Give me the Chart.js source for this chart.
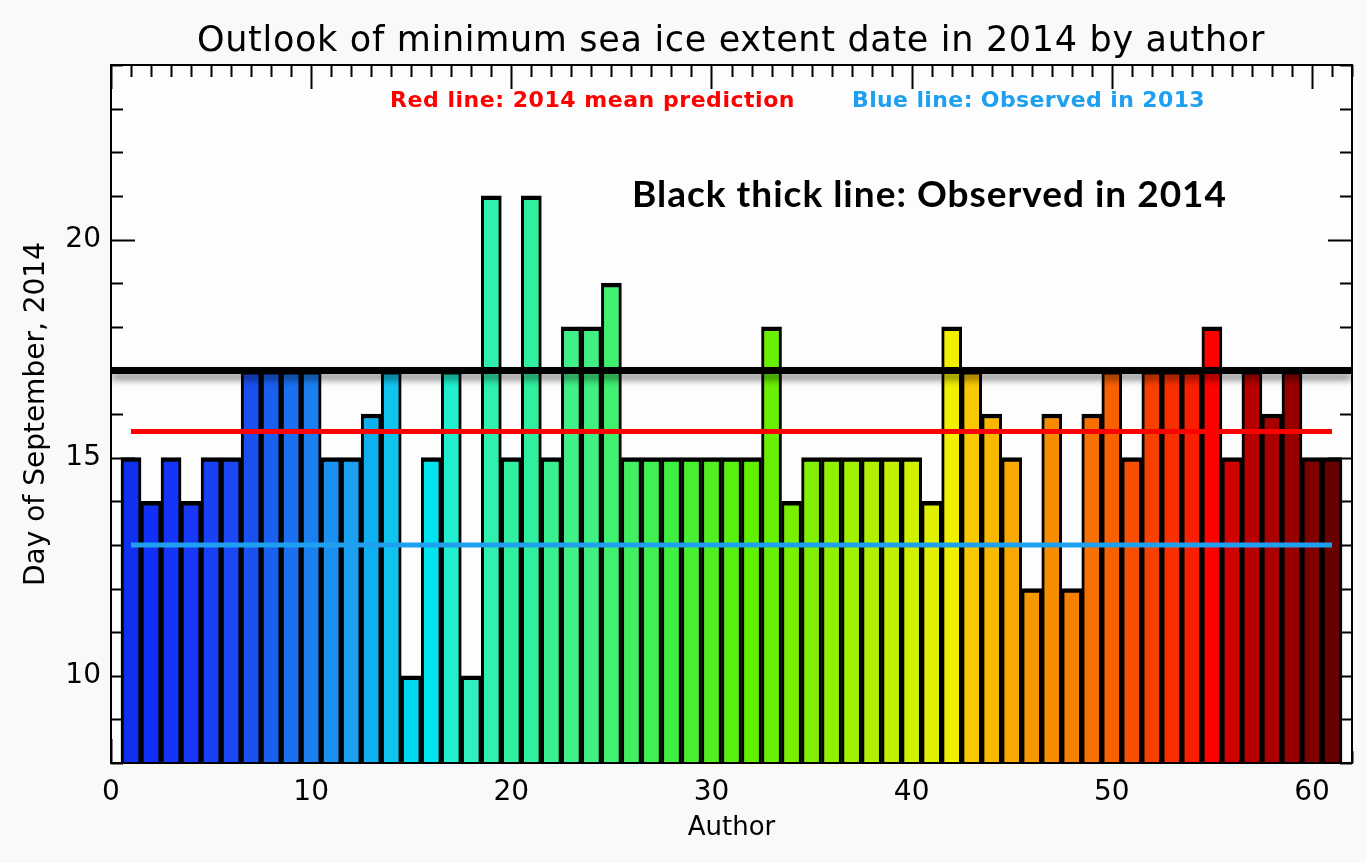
<!DOCTYPE html>
<html>
<head>
<meta charset="utf-8">
<script src="https://cdn.jsdelivr.net/npm/chart.js@4.4.1/dist/chart.umd.min.js"></script>
<style>
html,body{margin:0;padding:0;background:#fafafa;}
canvas{display:block;}
</style>
</head>
<body>
<canvas id="c" width="1366" height="863"></canvas>
<script>
// ---- data ----
const authors = [1,2,3,4,5,6,7,8,9,10,11,12,13,14,15,16,17,18,19,20,21,22,23,24,25,26,27,28,29,30,
  31,32,33,34,35,36,37,38,39,40,41,42,43,44,45,46,47,48,49,50,51,52,53,54,55,56,57,58,59,60,61];
const days = [15,14,15,14,15,15,17,17,17,17,15,15,16,17,10,15,17,10,21,15,
  21,15,18,18,19,15,15,15,15,15,15,15,18,14,15,15,15,15,15,15,
  14,18,17,16,15,12,16,12,16,17,15,17,17,17,18,15,17,16,17,15,15];
const barColors = ['#1030f0','#1030f8','#1434f8','#1838f8','#1a40f5','#1a48f5','#1a50f0','#1a60f0','#1a70f0','#1a80f0',
  '#1a90f0','#1aa0f0','#10b0f0','#10c4f0','#00d8f0','#00e4f0','#20f0d0','#30f0c0','#30f0b0','#30f0a0',
  '#30f0a0','#38f090','#40f088','#40f080','#40f070','#40f060','#40f050','#40f040','#48f030','#50f020',
  '#58f010','#60f000','#68f000','#78f000','#80f000','#90f000','#a0f000','#b0f000','#c0f000','#d0f000',
  '#e0f000','#f0f000','#f8c800','#f8b800','#f8a800','#f89800','#f88c00','#f88000','#f87000','#f86000',
  '#f85000','#f84000','#f83000','#f82000','#ff0000','#d00000','#b80000','#a80000','#980000','#800000','#680000'];
const meanPrediction2014 = 15.6;
const observed2013 = 13;
const observed2014 = 17;
const xTickLabels = [0,10,20,30,40,50,60];
const yTickLabels = [10,15,20];
const xRange = [0, 62];
const yRange = [8, 24];

const titleText = 'Outlook of minimum sea ice extent date in 2014 by author';
const redNote = 'Red line: 2014 mean prediction';
const blueNote = 'Blue line: Observed in 2013';
const blackNote = 'Black thick line: Observed in 2014';

function fitText(ctx, text, left, cy, width, font, color) {
  ctx.save();
  ctx.font = font;
  ctx.letterSpacing = '0px';
  const w = ctx.measureText(text).width;
  const ls = (width - w) / text.length;
  ctx.letterSpacing = ls + 'px';
  ctx.fillStyle = color;
  ctx.textAlign = 'left';
  ctx.textBaseline = 'middle';
  ctx.fillText(text, left, cy);
  ctx.restore();
}

const framePlugin = {
  id: 'frame',
  beforeDraw(chart) {
    const {ctx, chartArea: a} = chart;
    ctx.save();
    ctx.fillStyle = '#f9f9f9';
    ctx.fillRect(0, 0, chart.width, chart.height);
    ctx.fillStyle = '#fdfdfd';
    ctx.fillRect(a.left, a.top, a.right - a.left, a.bottom - a.top);
    ctx.restore();
  },
  beforeDatasetsDraw(chart) {
    const {ctx, chartArea: a, scales: {x, y}} = chart;
    ctx.save();
    ctx.strokeStyle = '#000';
    ctx.lineWidth = 2;
    ctx.beginPath();
    for (let v = Math.ceil(x.min); v <= x.max; v++) {
      const px = Math.round(x.getPixelForValue(v)) + 0.5;
      const len = v % 10 === 0 ? 24 : 12;
      ctx.moveTo(px, a.top); ctx.lineTo(px, a.top + len);
      ctx.moveTo(px, a.bottom); ctx.lineTo(px, a.bottom - len);
    }
    for (let v = Math.ceil(y.min); v <= y.max; v++) {
      const py = Math.round(y.getPixelForValue(v)) + 0.5;
      const len = v % 5 === 0 ? 24 : 12;
      ctx.moveTo(a.left, py); ctx.lineTo(a.left + len, py);
      ctx.moveTo(a.right, py); ctx.lineTo(a.right - len, py);
    }
    ctx.stroke();
    ctx.restore();
  },
  beforeDatasetDraw(chart, args) {
    if (chart.data.datasets[args.index].shadow) {
      const ctx = chart.ctx;
      ctx.save();
      ctx.shadowColor = 'rgba(0,0,0,0.45)';
      ctx.shadowBlur = 7;
      ctx.shadowOffsetY = 6;
    }
  },
  afterDatasetDraw(chart, args) {
    if (chart.data.datasets[args.index].shadow) chart.ctx.restore();
  },
  afterDatasetsDraw(chart) {
    const {ctx, chartArea: a} = chart;
    ctx.save();
    ctx.strokeStyle = '#000';
    ctx.lineWidth = 2;
    ctx.strokeRect(a.left, a.top, a.right - a.left, a.bottom - a.top);
    ctx.restore();
  },
  afterDraw(chart) {
    const ctx = chart.ctx;
    fitText(ctx, titleText, 197, 42, 1068, '35px "DejaVu Sans"', '#000');
    fitText(ctx, redNote, 390, 101, 405, 'bold 22px "DejaVu Sans"', '#ff0000');
    fitText(ctx, blueNote, 852, 101, 353, 'bold 22px "DejaVu Sans"', '#1e9ff0');
    fitText(ctx, blackNote, 632, 195, 595, 'bold 37px Lato', '#000');
  }
};

new Chart(document.getElementById('c'), {
  type: 'bar',
  data: {
    datasets: [
      {
        type: 'bar',
        label: 'Minimum date by author',
        data: authors.map((a, i) => ({x: a, y: days[i]})),
        backgroundColor: barColors,
        borderColor: '#000',
        borderWidth: {top: 4.5, left: 3, right: 3, bottom: 2},
        borderSkipped: false,
        barPercentage: 1,
        categoryPercentage: 1,
        order: 4
      },
      {
        type: 'line',
        label: 'Observed in 2013',
        data: [{x: authors[0], y: observed2013}, {x: authors[authors.length - 1], y: observed2013}],
        borderColor: '#1e9ff0',
        borderWidth: 5,
        pointRadius: 0,
        order: 3
      },
      {
        type: 'line',
        label: '2014 mean prediction',
        data: [{x: authors[0], y: meanPrediction2014}, {x: authors[authors.length - 1], y: meanPrediction2014}],
        borderColor: '#ff0000',
        borderWidth: 5,
        pointRadius: 0,
        order: 2
      },
      {
        type: 'line',
        label: 'Observed in 2014',
        data: [{x: xRange[0], y: observed2014}, {x: xRange[1], y: observed2014}],
        borderColor: '#000',
        borderWidth: 7,
        pointRadius: 0,
        order: 1,
        shadow: true
      }
    ]
  },
  options: {
    responsive: false,
    animation: false,
    devicePixelRatio: 1,
    layout: {padding: {left: 0, right: 14, top: 65, bottom: 0}},
    plugins: {legend: {display: false}, tooltip: {enabled: false}, title: {display: false}},
    scales: {
      x: {
        type: 'linear',
        min: xRange[0], max: xRange[1],
        offset: false,
        grid: {display: false, drawTicks: false, offset: false},
        border: {display: false},
        ticks: {
          stepSize: 10, includeBounds: false, autoSkip: false, maxRotation: 0,
          padding: 13, color: '#000',
          font: {family: 'DejaVu Sans', size: 28},
          callback: v => xTickLabels.includes(v) ? String(v) : ''
        },
        title: {display: true, text: 'Author', color: '#000',
          font: {family: 'DejaVu Sans', size: 26}, padding: {top: 0, bottom: 19}},
        afterFit(s) { s.height = 100; }
      },
      y: {
        min: yRange[0], max: yRange[1],
        grid: {display: false, drawTicks: false},
        border: {display: false},
        ticks: {
          stepSize: 5, includeBounds: false, padding: 10, color: '#000',
          font: {family: 'DejaVu Sans', size: 28},
          callback: v => yTickLabels.includes(v) ? String(v) : ''
        },
        title: {display: true, text: 'Day of September, 2014', color: '#000',
          font: {family: 'DejaVu Sans', size: 28}, padding: {top: 20, bottom: 0}},
        afterFit(s) { s.width = 111; }
      }
    }
  },
  plugins: [framePlugin]
});
</script>
</body>
</html>
